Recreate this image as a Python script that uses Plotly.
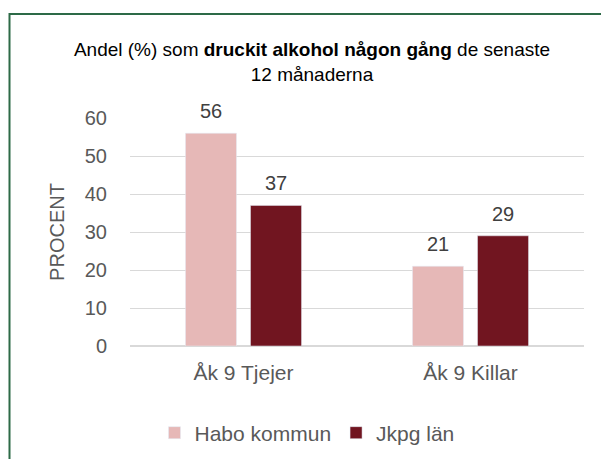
import plotly.graph_objects as go

categories = ["Åk 9 Tjejer", "Åk 9 Killar"]
habo = [56, 21]
jkpg = [37, 29]
series_names = ["Habo kommun", "Jkpg län"]
y_ticks = [0, 10, 20, 30, 40, 50, 60]

FONT = "Liberation Sans, Arial, sans-serif"
BARGAP = 0.427
BARGROUPGAP = 0.215

fig = go.Figure()
fig.add_trace(go.Bar(
    x=categories, y=habo, name=series_names[0],
    marker=dict(color="#E6B8B7"),
))
fig.add_trace(go.Bar(
    x=categories, y=jkpg, name=series_names[1],
    marker=dict(color="#711520"),
))

# data labels above bars
off = (1 - BARGAP) / 4
annotations = []
for i, cat in enumerate(categories):
    for vals, dx in ((habo, -off), (jkpg, off)):
        annotations.append(dict(
            x=i + dx, y=vals[i], xref="x", yref="y",
            text=str(vals[i]), showarrow=False,
            xanchor="center", yanchor="middle", yshift=22,
            font=dict(family=FONT, size=20, color="#404040"),
        ))

# page has an 8px body margin; figure sized to fit the window
W, H = 601, 451
L, R, T, B = 122, 25, 110, 113
pw = W - L - R
ph = H - T - B

fig.update_layout(
    width=W, height=H,
    margin=dict(l=L, r=R, t=T, b=B, autoexpand=False),
    paper_bgcolor="white", plot_bgcolor="white",
    barmode="group", bargap=BARGAP, bargroupgap=BARGROUPGAP,
    font=dict(family=FONT, color="#595959"),
    title=dict(
        text="Andel (%) som <b>druckit alkohol någon gång</b> de senaste<br>12 månaderna",
        x=304 / W, xanchor="center", xref="container",
        y=1 - 48 / H, yanchor="middle", yref="container",
        font=dict(family=FONT, size=19, color="#000000"),
    ),
    xaxis=dict(
        showgrid=False, showline=True, linecolor="#D9D9D9", linewidth=1,
        ticks="outside", ticklen=8, tickcolor="rgba(0,0,0,0)",
        tickfont=dict(family=FONT, size=21, color="#595959"),
        automargin=False,
    ),
    yaxis=dict(
        range=[0, 60], tickvals=y_ticks,
        showgrid=True, gridcolor="#D9D9D9", gridwidth=1,
        zeroline=True, zerolinecolor="#D9D9D9",
        ticks="outside", ticklen=18, tickcolor="rgba(0,0,0,0)",
        tickfont=dict(family=FONT, size=20, color="#595959"),
        title=dict(text="PROCENT", standoff=14,
                   font=dict(family=FONT, size=20, color="#595959")),
        automargin=False,
    ),
    legend=dict(
        orientation="h", xref="container", yref="container",
        x=299 / W, xanchor="center", y=1 - 425 / H, yanchor="middle",
        font=dict(family=FONT, size=21, color="#595959"),
        traceorder="normal", itemwidth=30,
    ),
    annotations=annotations,
    shapes=[dict(
        type="rect", xref="paper", yref="paper",
        x0=(1.5 - L) / pw, x1=(W + 20 - L) / pw,
        y0=-(H + 20 - (H - B)) / ph, y1=((H - B) - 6) / ph,
        line=dict(color="#2D6A47", width=2), fillcolor="rgba(0,0,0,0)",
        layer="below",
    )],
)

fig.write_html("out.html")
